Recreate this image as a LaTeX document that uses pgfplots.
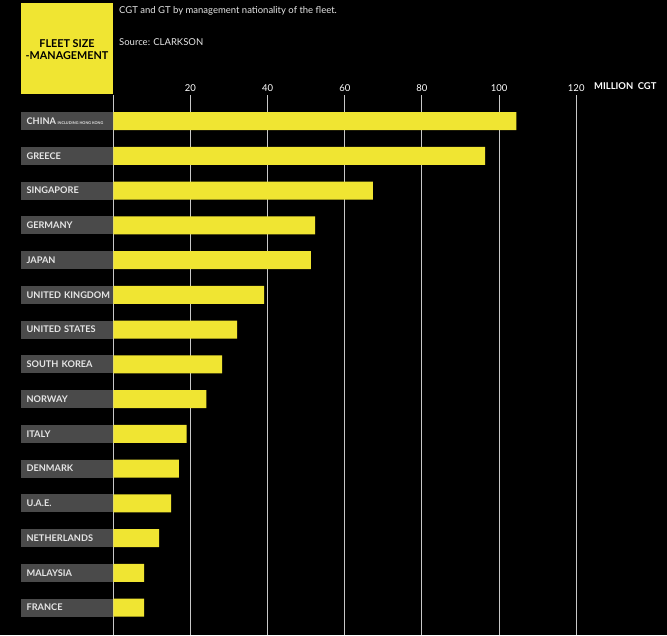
\documentclass[border=0pt]{standalone}
\usepackage{pgfplots}
\pgfplotsset{compat=1.18}
\usepackage{fontspec}
\setmainfont{Lato}
\definecolor{ylw}{HTML}{F0E532}
\definecolor{lblgray}{HTML}{4A4A4A}
\definecolor{txt}{HTML}{E6E6E6}
\definecolor{gridc}{HTML}{C8C8C8}
\pgfplotstableread{
idx value
0 104.5
1 96.4
2 67.3
3 52.3
4 51.2
5 39.1
6 32.1
7 28.2
8 24.1
9 19.0
10 17.0
11 15.0
12 11.9
13 8.0
14 8.0
}\fleet
\begin{document}
\begin{tikzpicture}[x=1pt,y=1pt]
\fill[black] (0,0) rectangle (667,635);
\begin{axis}[
  at={(113.3pt,0pt)}, anchor=south west,
  scale only axis, width=540.1pt, height=540pt,
  xmin=0, xmax=140, ymin=-0.75, ymax=14.79, y dir=reverse,
  xbar, bar width=18pt,
  axis line style={draw=none},
  xtick={0,20,...,120}, xticklabels={,20,40,60,80,100,120},
  xticklabel pos=upper,
  xmajorgrids, grid style={gridc, line width=1pt},
  major tick length=0pt,
  ytick={0,...,14},
  yticklabels={{\mbox{CHINA\,{\fontsize{3.8}{4}\selectfont\spaceskip=1pt INCLUDING HONG KONG}}},GREECE,SINGAPORE,GERMANY,JAPAN,\mbox{UNITED KINGDOM},\mbox{UNITED STATES},\mbox{SOUTH KOREA},NORWAY,ITALY,DENMARK,U.A.E.,NETHERLANDS,MALAYSIA,FRANCE},
  yticklabel style={fill=lblgray, text=txt, text width=81pt, align=left,
    minimum height=18pt, inner xsep=5.5pt, inner ysep=0pt, anchor=east,
    font=\bfseries\fontsize{9.2}{10}\selectfont},
  xticklabel style={text=white, font=\fontsize{9.5}{10}\selectfont},
  /pgf/number format/assume math mode=true,
]
\addplot[fill=ylw, draw=none] table[x=value, y=idx] {\fleet};
\end{axis}
\fill[ylw] (21,635-94) rectangle (113,635-3);
\node[align=center, font=\bfseries\fontsize{10.8}{12}\selectfont, text=black] at (67,635-50) {FLEET SIZE\\-MANAGEMENT};
\node[anchor=west, text=txt, inner sep=0pt, font=\fontsize{9.5}{10}\selectfont] at (119,635-11) {CGT and GT by management nationality of the fleet.};
\node[anchor=west, text=txt, inner sep=0pt, font=\fontsize{9.5}{10}\selectfont] at (119,635-42) {Source: CLARKSON};
\node[anchor=west, text=white, inner sep=0pt, font=\bfseries\fontsize{9.4}{10}\selectfont] at (594,635-86) {MILLION\ \ CGT};
\end{tikzpicture}
\end{document}
